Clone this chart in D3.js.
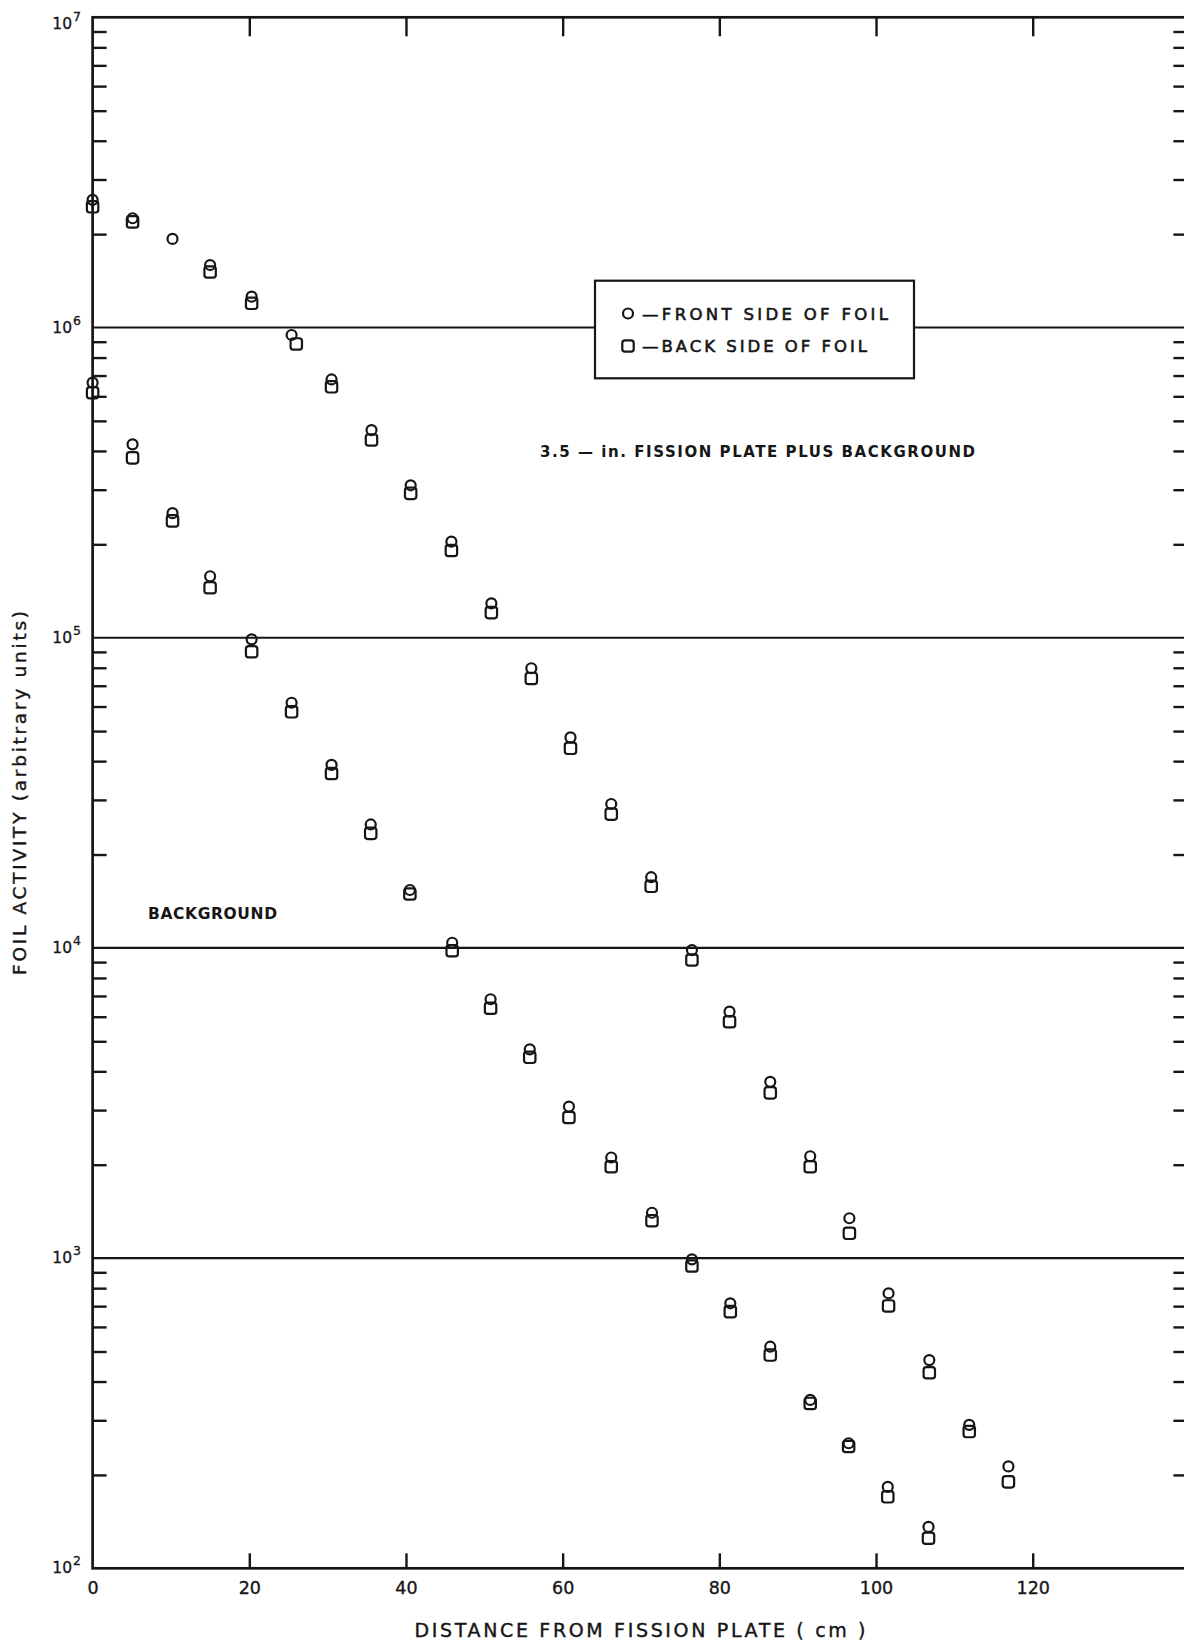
<!DOCTYPE html>
<html>
<head>
<meta charset="utf-8">
<script src="https://cdn.jsdelivr.net/npm/d3@7"></script>
<style>
  html, body { margin: 0; padding: 0; background: #ffffff; }
  svg { display: block; }
  text { font-family: "DejaVu Sans", "Noto Sans", sans-serif; fill: #161616; }
</style>
</head>
<body>
<svg id="chart" width="1184" height="1643"></svg>
<script>
// Foil positions (cm from the fission plate) and measured activities.
// Upper curve: 3.5-in. fission plate plus background.
const plateDistance = [0, 5.1, 10.2, 15, 20.3, 25.4, 30.5, 35.6, 40.6, 45.8, 50.9, 56, 61, 66.2, 71.3, 76.5, 81.3, 86.5, 91.6, 96.6, 101.6, 106.8, 111.9, 116.9];
const plateBackDistance = [0, 5.1, 10.2, 15, 20.3, 26.0, 30.5, 35.6, 40.6, 45.8, 50.9, 56, 61, 66.2, 71.3, 76.5, 81.3, 86.5, 91.6, 96.6, 101.6, 106.8, 111.9, 116.9];
const plateFront = [2.58e6, 2.25e6, 1.93e6, 1.59e6, 1.257e6, 9.46e5, 6.8e5, 4.67e5, 3.1e5, 2.04e5, 1.29e5, 7.97e4, 4.77e4, 2.91e4, 1.69e4, 9.84e3, 6.23e3, 3.7e3, 2.13e3, 1.344e3, 770, 469, 290, 213];
const plateBack = [2.45e6, 2.19e6, null, 1.51e6, 1.197e6, 8.85e5, 6.44e5, 4.34e5, 2.92e5, 1.91e5, 1.205e5, 7.39e4, 4.4e4, 2.7e4, 1.58e4, 9.14e3, 5.78e3, 3.41e3, 1.97e3, 1.202e3, 701, 427, 276, 190];

// Lower curve: background alone.
const backgroundDistance = [0, 5.1, 10.2, 15, 20.3, 25.4, 30.5, 35.5, 40.5, 45.9, 50.8, 55.8, 60.8, 66.2, 71.4, 76.5, 81.4, 86.5, 91.6, 96.5, 101.5, 106.7];
const backgroundFront = [6.64e5, 4.2e5, 2.52e5, 1.578e5, 9.88e4, 6.17e4, 3.89e4, 2.5e4, 1.537e4, 1.039e4, 6.83e3, 4.71e3, 3.08e3, 2.11e3, 1.4e3, 991, 715, 518, 349, 253, 183, 136];
const backgroundBack = [6.16e5, 3.8e5, 2.38e5, 1.449e5, 9.01e4, 5.77e4, 3.65e4, 2.34e4, 1.492e4, 9.79e3, 6.39e3, 4.44e3, 2.84e3, 1.97e3, 1.32e3, 943, 672, 487, 340, 247, 170, 125];

// Axis ticks and labels
const xTickLabels = [0, 20, 40, 60, 80, 100, 120];
const xTickMarks = [20, 40, 60, 80, 100, 120];
const decadeValues = [1e2, 1e3, 1e4, 1e5, 1e6, 1e7];
const decadeExponents = ["2", "3", "4", "5", "6", "7"];
const gridDecades = [1e3, 1e4, 1e5, 1e6];

const legendLabels = ["\u2014FRONT SIDE OF FOIL", "\u2014BACK SIDE OF FOIL"];
const xTitle = "DISTANCE FROM FISSION PLATE ( cm )";
const yTitle = "FOIL ACTIVITY (arbitrary units)";
const plateNote = "3.5 \u2014 in. FISSION PLATE PLUS BACKGROUND";
const backgroundNote = "BACKGROUND";

const ink = "#161616";
const svg = d3.select("#chart");

const x = d3.scaleLinear().domain([0, 140]).range([92.6, 1189.4]);
const y = d3.scaleLog().domain([1e2, 1e7]).range([1568.3, 17.3]);

const plotLeft = x(0), plotRight = x(140), plotTop = y(1e7), plotBottom = y(1e2);

// Decade rules across the plot
svg.append("g").selectAll("line").data(gridDecades).join("line")
  .attr("x1", plotLeft).attr("x2", plotRight)
  .attr("y1", d => y(d)).attr("y2", d => y(d))
  .attr("stroke", ink).attr("stroke-width", 2.1);

// Frame
svg.append("rect")
  .attr("x", plotLeft).attr("y", plotTop)
  .attr("width", plotRight - plotLeft).attr("height", plotBottom - plotTop)
  .attr("fill", "none").attr("stroke", ink).attr("stroke-width", 2.7);

// Minor log ticks (2..9 within each decade) on both vertical edges
const minorTicks = y.ticks().filter(v => Math.abs(Math.log10(v) - Math.round(Math.log10(v))) > 1e-9);

function styleAxis(g) {
  g.select(".domain").remove();
  g.selectAll(".tick line").attr("stroke", ink).attr("stroke-width", 2.4);
  g.selectAll(".tick text").remove();
}

svg.append("g").attr("transform", `translate(${plotLeft},0)`)
  .call(d3.axisRight(y).tickValues(minorTicks).tickSize(14).tickFormat(""))
  .call(styleAxis);

svg.append("g").attr("transform", `translate(${plotRight},0)`)
  .call(d3.axisLeft(y).tickValues(minorTicks).tickSize(16).tickFormat(""))
  .call(styleAxis);

// Distance ticks on top and bottom edges
svg.append("g").attr("transform", `translate(0,${plotTop})`)
  .call(d3.axisBottom(x).tickValues(xTickMarks).tickSize(19).tickFormat(""))
  .call(styleAxis);

svg.append("g").attr("transform", `translate(0,${plotBottom})`)
  .call(d3.axisTop(x).tickValues(xTickMarks).tickSize(15).tickFormat(""))
  .call(styleAxis);

// Distance tick labels
const xLabels = svg.append("g").attr("transform", `translate(0,${plotBottom})`)
  .call(d3.axisBottom(x).tickValues(xTickLabels).tickSize(0).tickPadding(13).tickFormat(d3.format("d")));
xLabels.select(".domain").remove();
xLabels.selectAll(".tick text")
  .attr("font-family", "DejaVu Sans, sans-serif")
  .attr("font-size", 17.5).attr("fill", ink)
  .attr("stroke", ink).attr("stroke-width", 0.35);

// Decade labels written as powers of ten
const yLab = svg.append("g").selectAll("text").data(decadeValues).join("text")
  .attr("x", 81)
  .attr("y", (d, i) => y(d) + (i === decadeValues.length - 1 ? 12 : 5))
  .attr("text-anchor", "end")
  .attr("font-size", 15.5)
  .attr("stroke", ink).attr("stroke-width", 0.3);
yLab.append("tspan").text("10");
yLab.append("tspan").attr("dy", -8).attr("dx", 1).attr("font-size", 12.5)
  .text((d, i) => decadeExponents[i]);

// Axis titles
svg.append("text")
  .attr("x", 640).attr("y", 1637)
  .attr("text-anchor", "middle")
  .attr("font-size", 19)
  .attr("stroke", ink).attr("stroke-width", 0.4)
  .attr("textLength", 451).attr("lengthAdjust", "spacing")
  .text(xTitle);

svg.append("text")
  .attr("transform", "translate(26,793) rotate(-90)")
  .attr("text-anchor", "middle")
  .attr("font-size", 18.5)
  .attr("stroke", ink).attr("stroke-width", 0.4)
  .attr("textLength", 364).attr("lengthAdjust", "spacing")
  .text(yTitle);

// Data markers: circles for the front face, rounded squares for the back face
const markerStroke = 2.2;
const half = 5.7;

function drawSquares(xs, vals) {
  const pts = vals.map((v, i) => ({ x: xs[i], v })).filter(d => d.v != null);
  svg.append("g").selectAll("rect").data(pts).join("rect")
    .attr("x", d => x(d.x) - half).attr("y", d => y(d.v) - half)
    .attr("width", half * 2).attr("height", half * 2)
    .attr("rx", 2.7)
    .attr("fill", "none").attr("stroke", ink).attr("stroke-width", markerStroke);
}
function drawCircles(xs, vals) {
  const pts = vals.map((v, i) => ({ x: xs[i], v })).filter(d => d.v != null);
  svg.append("g").selectAll("circle").data(pts).join("circle")
    .attr("cx", d => x(d.x)).attr("cy", d => y(d.v))
    .attr("r", 5)
    .attr("fill", "none").attr("stroke", ink).attr("stroke-width", markerStroke);
}

drawSquares(plateBackDistance, plateBack);
drawCircles(plateDistance, plateFront);
drawSquares(backgroundDistance, backgroundBack);
drawCircles(backgroundDistance, backgroundFront);

// Curve annotations
svg.append("text")
  .attr("x", 540).attr("y", 457)
  .attr("font-size", 15).attr("font-weight", "bold")
  .attr("textLength", 435).attr("lengthAdjust", "spacing")
  .text(plateNote);

svg.append("text")
  .attr("x", 148).attr("y", 919.3)
  .attr("font-size", 15.5).attr("font-weight", "bold")
  .attr("textLength", 129).attr("lengthAdjust", "spacing")
  .text(backgroundNote);

// Legend box (white fill interrupts the 10^6 rule)
const legend = svg.append("g");
legend.append("rect")
  .attr("x", 595).attr("y", 280.7).attr("width", 319).attr("height", 97.6)
  .attr("fill", "#ffffff").attr("stroke", ink).attr("stroke-width", 2.2);
legend.append("circle")
  .attr("cx", 628).attr("cy", 313.5).attr("r", 5)
  .attr("fill", "none").attr("stroke", ink).attr("stroke-width", markerStroke);
legend.append("rect")
  .attr("x", 628 - half).attr("y", 346 - half).attr("width", half * 2).attr("height", half * 2)
  .attr("rx", 2.7)
  .attr("fill", "none").attr("stroke", ink).attr("stroke-width", markerStroke);
const legendLengths = [246, 225];
legend.selectAll("text").data(legendLabels).join("text")
  .attr("x", 642)
  .attr("y", (d, i) => 320 + i * 31.7)
  .attr("font-size", 16.5)
  .attr("stroke", ink).attr("stroke-width", 0.6)
  .attr("textLength", (d, i) => legendLengths[i]).attr("lengthAdjust", "spacing")
  .text(d => d);
</script>
</body>
</html>
